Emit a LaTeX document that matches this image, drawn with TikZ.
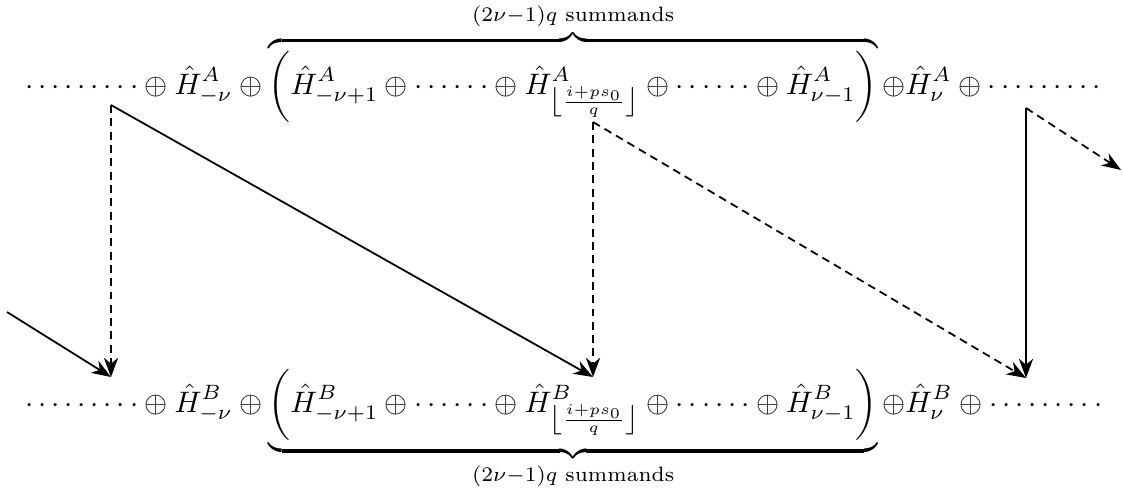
\documentclass[tikz,border=0pt]{standalone}
\usepackage{amsmath,amssymb}
\usetikzlibrary{arrows.meta}
\tikzset{
    sumrow/.style={inner sep=0pt, outer sep=0pt},
    arrow/.style={semithick, -{Stealth[length=6.5pt, width=4.8pt, inset=2pt]}},
    dasharrow/.style={arrow, dash pattern=on 2.7pt off 1.8pt}
}
\newcommand{\threedots}{\mathinner{\cdotp}\mathinner{\cdotp}\mathinner{\cdotp}}
\newcommand{\floorsub}{\left\lfloor\frac{i+ps_0}{q}\right\rfloor}

\begin{document}
\begin{tikzpicture}[x=0.3378pt, y=-0.3378pt]
        \useasboundingbox (0,0) rectangle (1123,491);
        % Nodes
        \node (rowA) [sumrow, anchor=base west] at (25,94) {$\displaystyle
            \threedots\threedots\threedots \oplus \hat{H}^A_{-\nu} \oplus
            \overbrace{\biggl(\hat{H}^A_{-\nu+1} \oplus \threedots\threedots \oplus \hat{H}^A_{\floorsub}
            \oplus \threedots\threedots \oplus \hat{H}^A_{\nu-1}\biggr)}^{(2\nu-1)q\text{ summands}}
            \oplus \hat{H}^A_{\nu} \oplus \threedots\threedots\threedots$};
        \node (rowB) [sumrow, anchor=base west] at (25,412) {$\displaystyle
            \threedots\threedots\threedots \oplus \hat{H}^B_{-\nu} \oplus
            \underbrace{\biggl(\hat{H}^B_{-\nu+1} \oplus \threedots\threedots \oplus \hat{H}^B_{\floorsub}
            \oplus \threedots\threedots \oplus \hat{H}^B_{\nu-1}\biggr)}_{(2\nu-1)q\text{ summands}}
            \oplus \hat{H}^B_{\nu} \oplus \threedots\threedots\threedots$};
        
        % Arrow ends
        \coordinate (inL) at (7,312);
        \coordinate (topL) at (111,105);
        \coordinate (botL) at (111,377);
        \coordinate (topM) at (593,122);
        \coordinate (botM) at (593,377);
        \coordinate (topR) at (1026,108);
        \coordinate (botR) at (1026,378);
        \coordinate (outR) at (1121,170);
        
        % Connections
        \draw [arrow] (inL) -- (botL);
        \draw [dasharrow] (topL) -- (botL);
        \draw [arrow] (topL) -- (botM);
        \draw [dasharrow] (topM) -- (botM);
        \draw [dasharrow] (topM) -- (botR);
        \draw [arrow] (topR) -- (botR);
        \draw [dasharrow] (topR) -- (outR);
    \end{tikzpicture}
\end{document}
